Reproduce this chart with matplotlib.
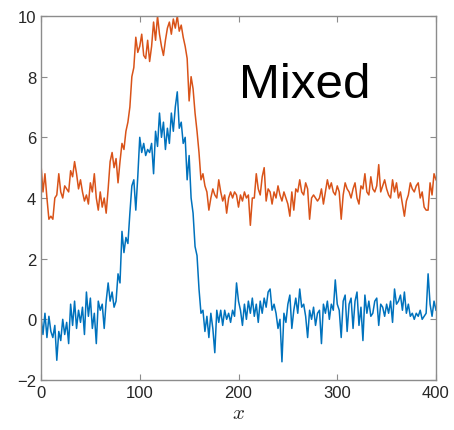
import numpy as np
import matplotlib
matplotlib.use("Agg")
import matplotlib.pyplot as plt

plt.rcParams['font.family'] = ['Liberation Sans', 'DejaVu Sans']
plt.rcParams['mathtext.fontset'] = 'cm'

# x grid, every 2 units from 0 to 400
x = np.arange(0, 401, 2)

# lower (blue) series
azul = [
    0.1, -0.5, 0.2, -0.6, 0.1, -0.4, -0.6, -0.2, -1.35, -0.4,
    -0.7, 0.0, -0.5, -0.1, -0.8, 0.5, -0.2, 0.6, -0.3, 0.3,
    -0.1, 0.4, -0.5, 0.9, 0.1, 0.7, -0.3, 0.2, -0.8, 0.6,
    0.3, 0.5, -0.3, 0.6, 1.2, 0.6, 0.9, 0.4, 0.6, 1.5,
    1.2, 2.9, 2.2, 2.7, 2.5, 3.5, 4.4, 4.6, 3.6, 4.7,
    6.0, 5.5, 5.8, 5.4, 5.6, 5.5, 5.8, 4.8, 6.2, 5.7,
    6.8, 6.0, 6.5, 5.6, 6.3, 5.8, 6.8, 6.2, 7.0, 7.5,
    6.3, 6.5, 5.8, 6.0, 4.6, 5.4, 4.0, 3.5, 2.4, 2.1,
    1.0, 0.2, 0.3, -0.4, 0.1, -0.6, 0.2, -0.3, -1.1, 0.3,
    -0.1, 0.3, -0.2, 0.3, 0.0, 0.2, -0.1, 0.3, 0.1, 1.2,
    0.6, 0.3, -0.2, 0.5, 0.0, 0.6, 0.2, 0.7, 0.1, 0.5,
    -0.1, 0.6, 0.2, 0.7, 0.4, 0.9, 1.0, 0.3, 0.5, 0.2,
    -0.3, 0.0, -1.4, 0.2, -0.1, 0.5, 0.8, -0.3, 0.3, 0.7,
    0.2, 1.0, 0.4, 0.5, 0.1, -0.6, 0.3, 0.0, 0.4, -0.2,
    0.2, 0.3, -0.8, 0.5, 0.2, 0.6, 0.0, 0.5, 0.3, 1.3,
    0.5, 0.3, -0.6, 0.6, 0.8, -0.4, 0.5, 0.7, -0.3, 0.6,
    0.9, -0.2, 0.4, -0.7, 0.8, 0.2, 0.6, 0.1, 0.2, 0.6,
    0.7, -0.2, 0.5, 0.4, 0.1, 0.5, 0.2, 0.6, -0.1, 1.0,
    0.5, 0.6, 0.8, 0.3, 0.9, 0.2, 0.5, 0.1, 0.2, 0.0,
    0.2, 0.1, 0.3, 0.0, 0.1, 0.2, 1.5, 0.5, 0.1, 0.6,
    0.3,
]

# upper (orange) series
naranja = [
    5.1, 4.2, 4.8, 4.0, 3.3, 3.4, 3.3, 4.0, 4.1, 4.8,
    4.2, 4.0, 4.4, 4.3, 4.2, 4.9, 4.7, 5.2, 4.8, 4.3,
    4.6, 4.2, 3.9, 4.1, 3.8, 4.5, 4.2, 4.8, 4.0, 3.6,
    4.2, 3.7, 4.0, 3.5, 4.3, 5.2, 5.5, 5.0, 5.3, 4.5,
    5.2, 5.8, 5.6, 6.2, 6.5, 7.0, 8.0, 8.3, 9.3, 8.8,
    9.0, 9.4, 8.7, 8.6, 9.2, 8.5, 9.0, 9.8, 9.2, 10.0,
    9.4, 9.0, 8.7, 9.2, 9.6, 9.8, 9.4, 9.9, 9.6, 10.0,
    9.5, 9.7, 9.3, 9.0, 8.6, 7.2, 8.0, 7.6, 6.8, 6.2,
    5.5, 4.6, 4.8, 4.4, 4.2, 3.6, 4.0, 4.3, 4.1, 4.0,
    4.6, 4.2, 3.9, 4.1, 3.5, 4.0, 4.2, 4.0, 4.2, 4.1,
    3.7, 4.1, 3.9, 4.2, 4.0, 4.1, 3.1, 4.0, 4.0, 4.8,
    4.3, 4.1, 4.7, 5.0, 3.9, 4.3, 4.2, 3.8, 4.2, 4.0,
    4.4, 4.1, 3.9, 4.2, 4.0, 3.8, 3.4, 4.2, 3.6, 4.3,
    4.2, 4.6, 4.2, 4.1, 4.5, 4.3, 3.3, 4.0, 4.1, 4.0,
    3.9, 4.0, 4.3, 3.8, 4.2, 4.6, 4.3, 4.5, 4.2, 4.1,
    4.4, 4.2, 3.3, 4.1, 4.5, 4.3, 4.2, 4.0, 4.3, 4.5,
    4.0, 3.8, 4.4, 4.3, 4.8, 4.2, 4.1, 4.7, 4.3, 4.2,
    4.4, 5.1, 4.2, 4.4, 4.6, 4.3, 4.1, 4.0, 4.6, 4.2,
    4.5, 4.0, 4.2, 3.8, 3.4, 3.9, 4.1, 4.5, 4.3, 4.2,
    4.4, 4.5, 4.0, 4.2, 3.7, 3.6, 3.6, 4.5, 4.1, 4.8,
    4.6,
]

xticks = [0, 100, 200, 300, 400]
yticks = [-2, 0, 2, 4, 6, 8, 10]

fig = plt.figure(figsize=(4.54, 4.31), dpi=100)
ax = fig.add_axes([41/454, 1 - 381/431, 395/454, 364/431])

ax.plot(x, azul, color='#0072BD', lw=1.1)
ax.plot(x, naranja, color='#D95319', lw=1.1)

ax.set_xlim(0, 400)
ax.set_ylim(-2, 10)
ax.set_xticks(xticks)
ax.set_yticks(yticks)
ax.tick_params(direction='in', top=True, right=True, length=4,
               color='#8c8c8c', labelsize=12, labelcolor='#262626')
for s in ax.spines.values():
    s.set_color('#8c8c8c')
    s.set_linewidth(1.0)

ax.set_xlabel('$x$', fontsize=15, color='#262626', labelpad=2)
ax.text(201, 7.75, 'Mixed', fontsize=35.5, va='center', ha='left', color='black')

fig.savefig('out.png', dpi=100)
